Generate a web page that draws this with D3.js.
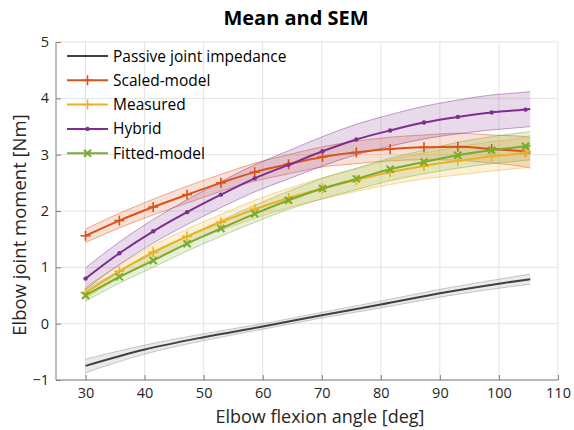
<!DOCTYPE html>
<html lang="en">
<head>
    <meta charset="UTF-8">
    <title>Mean and SEM</title>
    <script src="https://d3js.org/d3.v7.min.js"></script>
    <style>
        body { margin: 0; background: #fff; font-family: "Open Sans", "Noto Sans", sans-serif; }
        .grid line { stroke: #e3e3e3; stroke-width: 1; }
        .axis path, .axis line { stroke: #7f7f7f; }
        .axis text { fill: #262626; font-size: 14.5px; font-family: "Open Sans", sans-serif; }
    </style>
</head>
<body>
    <svg width="574" height="430"></svg>

    <script>
        // flexion angles where the model curves are sampled (markers on all but the last)
        const angles = [30, 35.73, 41.46, 47.19, 52.92, 58.65, 64.38, 70.12, 75.85, 81.58, 87.31, 93.04, 98.77, 104.5, 105.3];

        const scaledMean   = [1.56, 1.83, 2.07, 2.29, 2.50, 2.69, 2.83, 2.96, 3.04, 3.10, 3.13, 3.14, 3.10, 3.05, 3.03];
        const scaledSem    = [0.12, 0.13, 0.14, 0.15, 0.15, 0.16, 0.17, 0.18, 0.20, 0.21, 0.22, 0.24, 0.25, 0.27, 0.27];
        const measuredMean = [0.55, 0.93, 1.27, 1.55, 1.80, 2.03, 2.23, 2.40, 2.55, 2.69, 2.80, 2.89, 2.97, 3.04, 3.06];
        const measuredSem  = [0.10, 0.11, 0.12, 0.13, 0.14, 0.16, 0.17, 0.19, 0.20, 0.22, 0.23, 0.25, 0.26, 0.27, 0.28];
        const hybridMean   = [0.80, 1.25, 1.64, 1.98, 2.29, 2.58, 2.82, 3.06, 3.27, 3.43, 3.57, 3.67, 3.75, 3.80, 3.81];
        const hybridSem    = [0.19, 0.20, 0.21, 0.22, 0.23, 0.24, 0.25, 0.26, 0.27, 0.28, 0.29, 0.30, 0.31, 0.31, 0.31];
        const fittedMean   = [0.50, 0.83, 1.12, 1.42, 1.69, 1.95, 2.19, 2.40, 2.57, 2.74, 2.87, 2.99, 3.08, 3.15, 3.16];
        const fittedSem    = [0.10, 0.11, 0.12, 0.13, 0.14, 0.15, 0.16, 0.18, 0.19, 0.20, 0.21, 0.23, 0.24, 0.25, 0.25];

        // passive curve has no markers
        const passiveAngles = [30, 40, 50, 60, 70, 80, 90, 100, 105.3];
        const passiveMean   = [-0.75, -0.46, -0.24, -0.05, 0.15, 0.34, 0.54, 0.71, 0.79];
        const passiveSem    = [0.12, 0.08, 0.06, 0.05, 0.05, 0.06, 0.07, 0.08, 0.09];

        const xTicks = [30, 40, 50, 60, 70, 80, 90, 100, 110];
        const yTicks = [-1, 0, 1, 2, 3, 4, 5];

        const series = [
            { name: "Passive joint impedance", x: passiveAngles, mean: passiveMean, sem: passiveSem, color: "#404040", band: "#8c8c8c", marker: null },
            { name: "Scaled-model", x: angles, mean: scaledMean, sem: scaledSem, color: "#D95319", band: "#D95319", marker: "plus" },
            { name: "Measured", x: angles, mean: measuredMean, sem: measuredSem, color: "#EDB120", band: "#EDB120", marker: "plus" },
            { name: "Hybrid", x: angles, mean: hybridMean, sem: hybridSem, color: "#7E2F8E", band: "#7E2F8E", marker: "dot" },
            { name: "Fitted-model", x: angles, mean: fittedMean, sem: fittedSem, color: "#77AC30", band: "#77AC30", marker: "cross" }
        ];

        const svg = d3.select("svg");
        const plotLeft = 56, plotRight = 558, plotTop = 42, plotBottom = 380;

        const x = d3.scaleLinear().domain([25, 110]).range([plotLeft, plotRight]);
        const y = d3.scaleLinear().domain([-1, 5]).range([plotBottom, plotTop]);

        // grid
        const grid = svg.append("g").attr("class", "grid");
        grid.selectAll(".gx").data(xTicks).enter().append("line")
            .attr("x1", d => x(d)).attr("x2", d => x(d))
            .attr("y1", plotTop).attr("y2", plotBottom);
        grid.selectAll(".gy").data(yTicks).enter().append("line")
            .attr("x1", plotLeft).attr("x2", plotRight)
            .attr("y1", d => y(d)).attr("y2", d => y(d));

        const pts = s => s.x.map((a, i) => ({ a: a, m: s.mean[i], s: s.sem[i] }));

        const area = d3.area().curve(d3.curveMonotoneX)
            .x(d => x(d.a)).y0(d => y(d.m - d.s)).y1(d => y(d.m + d.s));
        const upper = d3.line().curve(d3.curveMonotoneX).x(d => x(d.a)).y(d => y(d.m + d.s));
        const lower = d3.line().curve(d3.curveMonotoneX).x(d => x(d.a)).y(d => y(d.m - d.s));
        const line = d3.line().curve(d3.curveMonotoneX).x(d => x(d.a)).y(d => y(d.m));

        // SEM bands
        series.forEach(s => {
            const p = pts(s);
            const g = svg.append("g");
            g.append("path").attr("d", area(p)).attr("fill", s.band).attr("fill-opacity", 0.18);
            [upper, lower].forEach(fn => {
                g.append("path").attr("d", fn(p)).attr("fill", "none")
                    .attr("stroke", s.band).attr("stroke-opacity", 0.45).attr("stroke-width", 1);
            });
        });

        function drawMarker(g, type, cx, cy, color) {
            if (type === "plus") {
                g.append("line").attr("x1", cx).attr("x2", cx).attr("y1", cy - 5).attr("y2", cy + 5)
                    .attr("stroke", color).attr("stroke-width", 1.6);
                g.append("line").attr("x1", cx - 5).attr("x2", cx + 5).attr("y1", cy).attr("y2", cy)
                    .attr("stroke", color).attr("stroke-width", 1.6);
            } else if (type === "dot") {
                g.append("circle").attr("cx", cx).attr("cy", cy).attr("r", 2.2).attr("fill", color);
            } else if (type === "cross") {
                g.append("path").attr("d", `M${cx - 3.5},${cy - 3.5}L${cx + 3.5},${cy + 3.5}M${cx - 3.5},${cy + 3.5}L${cx + 3.5},${cy - 3.5}`)
                    .attr("stroke", color).attr("stroke-width", 2);
            }
        }

        // mean lines and markers
        series.forEach(s => {
            const p = pts(s);
            const g = svg.append("g");
            g.append("path").attr("d", line(p)).attr("fill", "none")
                .attr("stroke", s.color).attr("stroke-width", 2);
            if (s.marker) {
                p.slice(0, -1).forEach(d => drawMarker(g, s.marker, x(d.a), y(d.m), s.color));
            }
        });

        // axes
        svg.append("g").attr("class", "axis")
            .attr("transform", `translate(0,${plotBottom})`)
            .call(d3.axisBottom(x).tickValues(xTicks).tickSizeInner(-5).tickSizeOuter(0).tickPadding(8))
            .call(g => g.select(".domain").attr("d", `M${plotLeft},0H${plotRight}`));
        svg.append("g").attr("class", "axis")
            .attr("transform", `translate(${plotLeft},0)`)
            .call(d3.axisLeft(y).tickValues(yTicks).tickFormat(d3.format("d")).tickSizeInner(-5).tickSizeOuter(0).tickPadding(7))
            .call(g => g.select(".domain").attr("d", `M0,${plotBottom}V${plotTop}`));

        // title and axis labels
        svg.append("text")
            .attr("x", 296).attr("y", 25)
            .attr("text-anchor", "middle")
            .style("font-size", "20px").style("font-weight", "bold").style("fill", "#000")
            .text("Mean and SEM");

        svg.append("text")
            .attr("x", 320).attr("y", 423)
            .attr("text-anchor", "middle")
            .style("font-size", "18px").style("fill", "#262626")
            .text("Elbow flexion angle [deg]");

        svg.append("text")
            .attr("transform", `translate(26,225) rotate(-90)`)
            .attr("text-anchor", "middle")
            .style("font-size", "18.5px").style("fill", "#262626")
            .text("Elbow joint moment [Nm]");

        // legend
        const legend = svg.append("g").attr("transform", "translate(67,56)");
        const items = legend.selectAll(".legend-item")
            .data(series).enter().append("g")
            .attr("class", "legend-item")
            .attr("transform", (d, i) => `translate(0,${i * 24.3})`);

        items.append("line").attr("x1", 0).attr("x2", 41).attr("y1", 0).attr("y2", 0)
            .attr("stroke", d => d.color).attr("stroke-width", 2);
        items.each(function (d) {
            if (d.marker) drawMarker(d3.select(this), d.marker, 20.5, 0, d.color);
        });
        items.append("text")
            .attr("x", 46).attr("y", 5.5)
            .style("font-size", "15.5px").style("fill", "#000")
            .text(d => d.name);
    </script>
</body>
</html>
